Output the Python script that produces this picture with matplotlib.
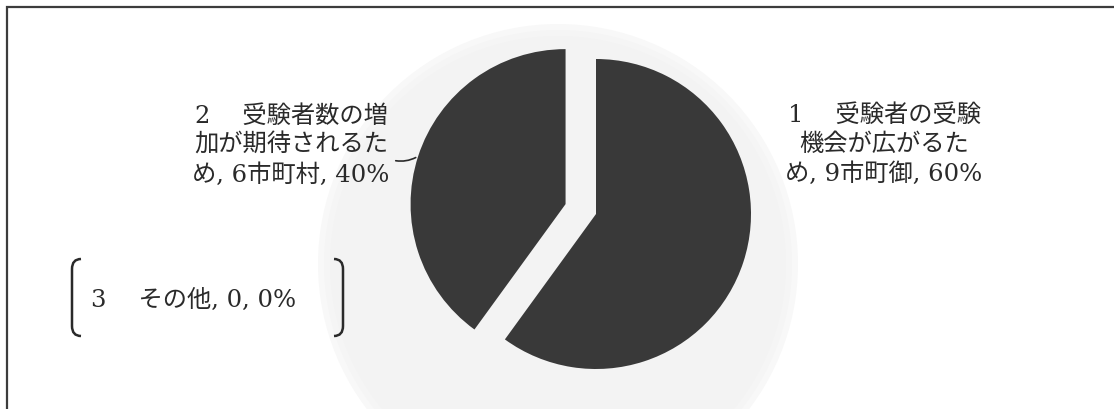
import numpy as np
import matplotlib
matplotlib.use("Agg")
import matplotlib.pyplot as plt
from matplotlib.patches import Circle, Rectangle, PathPatch
from matplotlib.path import Path

# answers: reason for the change, number of municipalities
heads = ["1\u3000 受験者の受験\n機会が広がるた", "2\u3000 受験者数の増\n加が期待されるた", "3\u3000 その他"]
units = ["市町御", "市町村", ""]
counts = [9, 6, 0]

W, H = 1114, 410
FONT = ["DejaVu Serif", "Noto Sans CJK JP"]
INK = "#2a2a2a"
PIE = "#393939"

fig = plt.figure(figsize=(W / 100, H / 100), dpi=100)
ax = fig.add_axes([0, 0, 1, 1])

# faint scan shadow behind the pie, soft edge from stacked discs
for rad, col in [(240, "#f8f8f8"), (234, "#f5f5f5"), (228, "#f3f3f3")]:
    ax.add_patch(Circle((558, H - 265), rad, color=col, lw=0, zorder=0))

cx, cy, r = 596, 195, 155
total = sum(counts)
wedges, _ = ax.pie(counts, center=(cx, cy), radius=r, startangle=90,
                   counterclock=False, explode=[0, 32, 0],
                   colors=[PIE, PIE, PIE],
                   wedgeprops=dict(linewidth=0))
ax.set_xlim(0, W)
ax.set_ylim(0, H)
ax.set_aspect("equal")
ax.axis("off")

pcts = [100 * c / total for c in counts]

# label 1 (right)
ax.text(884, H - 145, f"{heads[0]}\nめ, {counts[0]}{units[0]}, {pcts[0]:.0f}%",
        ha="center", va="center", fontsize=17.5, family=FONT, color=INK,
        linespacing=1.36)

# label 2 (left) with leader to the wedge edge
w2 = wedges[1]
tm = np.deg2rad(0.5 * (w2.theta1 + w2.theta2))
ex = w2.center[0] + r * np.cos(tm)
ey = w2.center[1] + r * np.sin(tm)
ax.text(291, H - 146, f"{heads[1]}\nめ, {counts[1]}{units[1]}, {pcts[1]:.0f}%",
        ha="center", va="center", fontsize=17.5, family=FONT, color=INK,
        linespacing=1.36)
ax.annotate("", xy=(ex, ey), xytext=(393, ey - 4),
            arrowprops=dict(arrowstyle="-", color=INK, lw=1.2,
                            connectionstyle="arc3,rad=0.2"))

# label 3 in brackets
ax.text(194, H - 300, f"{heads[2]}, {counts[2]}, {pcts[2]:.0f}%",
        ha="center", va="center", fontsize=17.5, family=FONT, color=INK)


def bracket(x, y0, y1, side):
    d = 9 * side
    verts = [(x + d, y1), (x, y1), (x, y1 - 10), (x, y0 + 10), (x, y0), (x + d, y0)]
    codes = [Path.MOVETO, Path.CURVE3, Path.CURVE3, Path.LINETO, Path.CURVE3, Path.CURVE3]
    ax.add_patch(PathPatch(Path(verts, codes), fill=False, ec=INK, lw=1.8))


bracket(72, H - 337, H - 260, 1)
bracket(343, H - 337, H - 260, -1)

# outer frame (runs off the right and bottom edges)
ax.add_patch(Rectangle((6.5, -20), W + 40, H - 8 + 20, fill=False,
                       ec="#3c3c3c", lw=1.6, zorder=5))

fig.savefig("out.png", dpi=100)
